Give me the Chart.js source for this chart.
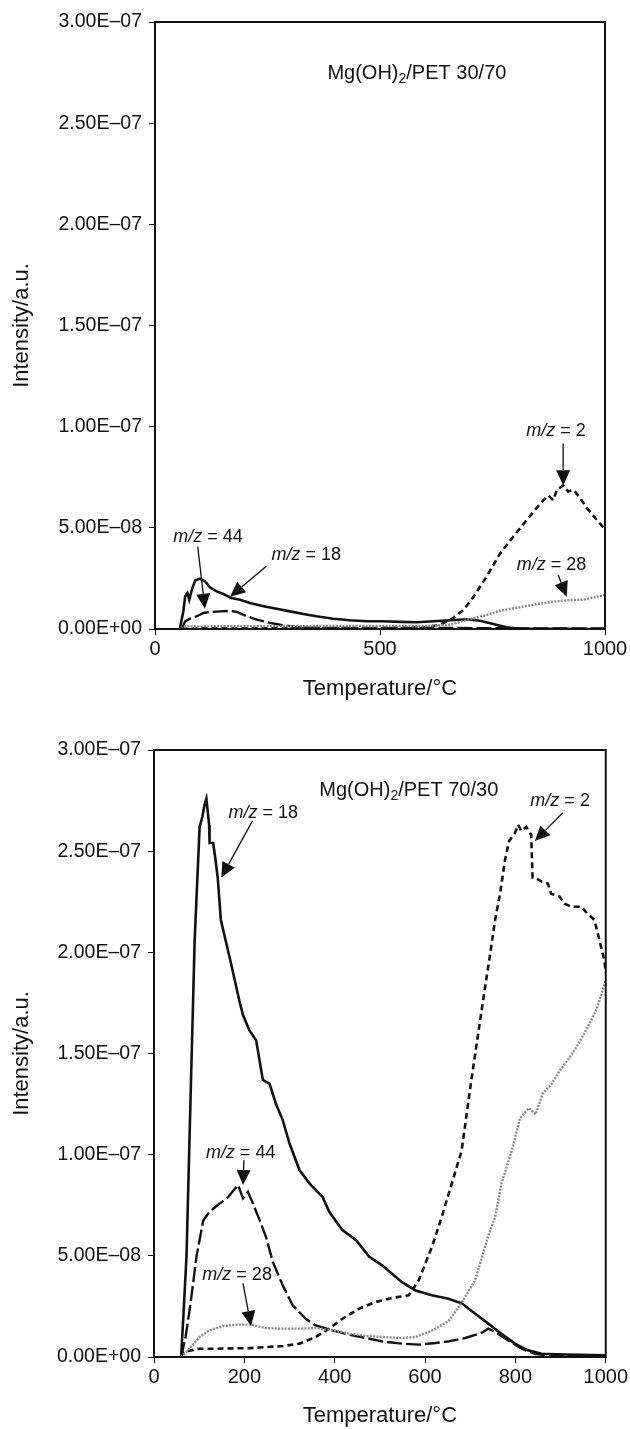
<!DOCTYPE html>
<html><head><meta charset="utf-8">
<script src="https://cdn.jsdelivr.net/npm/chart.js@4.4.1/dist/chart.umd.min.js"></script>
<style>
html,body{margin:0;padding:0;background:#fff;width:630px;height:1429px;overflow:hidden}
.wrap{position:absolute;left:0;width:630px}
canvas{display:block}
</style></head><body>
<div class="wrap" style="top:0;height:720px"><canvas id="c1" width="630" height="720"></canvas></div>
<div class="wrap" style="top:720px;height:709px"><canvas id="c2" width="630" height="709"></canvas></div>
<script>
// ---- tick labels ----
const yTickLabels = ['0.00E+00','5.00E\u201308','1.00E\u201307','1.50E\u201307','2.00E\u201307','2.50E\u201307','3.00E\u201307'];
const yTickValues = [0,5,10,15,20,25,30]; // units of 1e-8
const xTicksTop = [0,500,1000];
const xTicksBottom = [0,200,400,600,800,1000];

// ---- top panel: Mg(OH)2/PET 30/70 (intensity in 1e-8 a.u.) ----
const t18Top = [55,63,67,72,76,81,89,100,111,122,137,152,170,189,211,241,270,300,330,359,396,433,470,507,544,582,619,656,693,722,752,781,804,850,900,950,1000];
const v18Top = [0,0.87,1.61,1.78,1.45,1.86,2.4,2.49,2.36,2.06,1.86,1.73,1.53,1.45,1.28,1.12,1.0,0.87,0.74,0.63,0.51,0.43,0.38,0.38,0.35,0.33,0.38,0.43,0.48,0.41,0.25,0.08,0.02,0.01,0.01,0,0];
const t44Top = [59,67,78,93,108,122,145,167,182,204,226,256,285,322,359,450,550,650,750,850,1000];
const v44Top = [0,0.38,0.51,0.63,0.79,0.84,0.87,0.9,0.84,0.63,0.46,0.30,0.18,0.08,0.05,0.04,0.04,0.05,0.04,0.03,0.03];
const t2Top = [59,100,200,300,400,500,600,630,656,685,708,737,767,796,826,856,874,885,893,907,918,930,944,959,974,995,1000];
const v2Top = [0,0.03,0.04,0.04,0.05,0.05,0.08,0.2,0.44,0.93,1.6,2.59,3.74,4.56,5.38,6.2,6.6,6.37,6.87,7.1,6.8,6.87,6.5,6.0,5.6,5.05,4.95];
const t28Top = [59,67,100,200,300,400,500,600,619,656,693,737,767,804,841,885,922,952,996,1000];
const v28Top = [0,0.12,0.13,0.14,0.14,0.15,0.15,0.15,0.17,0.21,0.45,0.69,0.91,1.05,1.2,1.35,1.43,1.45,1.66,1.68];

// ---- bottom panel: Mg(OH)2/PET 70/30 ----
const t18Bot = [60,65,72,80,90,101,107,112,116,122,123,131,136,141,148,170,189,197,211,226,241,256,270,285,300,322,344,373,388,417,447,476,505,549,579,615,652,682,711,740,769,799,828,858,909,1000];
const v18Bot = [0,2,5,12,20.6,26.2,26.7,27.3,27.6,26.3,25.4,25.4,24.6,23.7,21.6,19.5,17.6,16.9,16.15,15.66,13.69,13.5,12.5,11.71,10.55,9.24,8.58,7.92,7.18,6.27,5.78,4.96,4.53,3.7,3.29,3.05,2.88,2.64,2.14,1.65,1.15,0.66,0.33,0.16,0.12,0.08];
const t44Bot = [60,70,80,94,109,120,131,145,164,175,186,197,208,219,234,248,263,285,307,336,358,395,432,469,505,549,586,623,652,689,725,740,755,784,814,843,872,1000];
const v44Bot = [0,1,2.5,4.96,6.75,7.09,7.33,7.58,7.9,8.2,8.5,7.84,8.16,7.58,6.75,5.93,4.7,3.54,2.55,1.89,1.56,1.32,1.1,0.94,0.77,0.66,0.61,0.69,0.77,0.94,1.19,1.4,1.24,0.82,0.41,0.16,0.08,0.05];
const t2Bot = [60,65,101,138,212,285,322,358,388,417,454,491,527,564,586,615,637,659,681,700,722,733,744,755,766,777,786,799,806,813,824,835,838,843,858,872,879,898,909,924,946,960,975,986,997,1000];
const v2Bot = [0,0.25,0.41,0.41,0.44,0.54,0.66,0.99,1.4,1.89,2.39,2.72,2.92,3.05,3.79,5.43,6.92,8.56,10.2,13.3,16.65,18.3,19.9,21.6,22.9,24.56,25.5,25.9,26.3,26.0,26.2,25.8,23.7,23.7,23.5,23.4,22.9,22.75,22.4,22.25,22.25,21.9,21.6,20.6,19.6,19.0];
const t28Bot = [60,72,101,123,153,182,212,248,285,322,358,395,432,469,505,549,579,615,652,681,711,740,755,769,792,810,830,845,860,880,900,920,940,960,980,1000];
const v28Bot = [0,0.25,0.99,1.32,1.53,1.6,1.6,1.43,1.4,1.4,1.43,1.32,1.15,1.04,0.99,0.94,0.99,1.3,1.77,2.68,3.8,6.0,6.9,8.56,10.2,11.8,12.3,12.0,13.0,13.5,14.2,14.8,15.5,16.3,17.2,18.6];

// ---- annotations (data coordinates) ----
const annTop = [
  {num:'2',  tx:891, ty:9.78, x1:907, y1:9.17, x2:907, y2:7.1},
  {num:'44', tx:118, ty:4.54, x1:95,  y1:4.07, x2:111, y2:1.0},
  {num:'18', tx:336, ty:3.66, x1:248, y1:3.11, x2:167, y2:1.6},
  {num:'28', tx:881, ty:3.16, x1:896, y1:2.67, x2:915, y2:1.6}
];
const titleTop = {pre:'Mg(OH)', sub:'2', post:'/PET 30/70', tx:582, ty:27.45};
const annBot = [
  {num:'18', tx:242, ty:26.9, x1:218, y1:26.5, x2:149, y2:23.7},
  {num:'2',  tx:899, ty:27.5, x1:905, y1:26.9, x2:843, y2:25.5},
  {num:'44', tx:192, ty:10.1, x1:199, y1:9.73, x2:197, y2:8.5},
  {num:'28', tx:184, ty:4.05, x1:197, y1:3.64, x2:215, y2:1.53}
];
const titleBot = {pre:'Mg(OH)', sub:'2', post:'/PET 70/30', tx:564, ty:28.0};

const FONT = '"Liberation Sans", Arial, Helvetica, sans-serif';
const pts = (t, v) => t.map((x, i) => ({x: x, y: v[i]}));

function series(t18, v18, t44, v44, t2, v2, t28, v28) {
  return [
    {label:'m/z = 28', data: pts(t28, v28), borderColor:'#8a8a8a', borderWidth:2.4, borderDash:[2,1.3]},
    {label:'m/z = 44', data: pts(t44, v44), borderColor:'#111', borderWidth:2.4, borderDash:[15,4]},
    {label:'m/z = 2',  data: pts(t2, v2),   borderColor:'#111', borderWidth:2.6, borderDash:[6,4]},
    {label:'m/z = 18', data: pts(t18, v18), borderColor:'#111', borderWidth:2.6}
  ].map(d => Object.assign(d, {pointRadius:0, tension:0, fill:false}));
}

function annPlugin(anns, title) {
  return {
    id: 'ann',
    afterDatasetsDraw(chart) {
      const {ctx, chartArea: a, scales: {x, y}} = chart;
      ctx.save();
      ctx.strokeStyle = '#111';
      ctx.lineWidth = 2;
      ctx.strokeRect(a.left, a.top, a.right - a.left, a.bottom - a.top);
      ctx.fillStyle = '#111';
      ctx.textBaseline = 'middle';
      ctx.textAlign = 'left';
      const tx = x.getPixelForValue(title.tx), ty = y.getPixelForValue(title.ty);
      ctx.font = '20px ' + FONT;
      const w1 = ctx.measureText(title.pre).width;
      const w3 = ctx.measureText(title.post).width;
      ctx.font = '14px ' + FONT;
      const w2 = ctx.measureText(title.sub).width;
      let sx = tx - (w1 + w2 + w3) / 2;
      ctx.font = '20px ' + FONT;
      ctx.fillText(title.pre, sx, ty);
      ctx.font = '14px ' + FONT;
      ctx.fillText(title.sub, sx + w1, ty + 6);
      ctx.font = '20px ' + FONT;
      ctx.fillText(title.post, sx + w1 + w2, ty);
      anns.forEach(an => {
        const px = x.getPixelForValue(an.tx), py = y.getPixelForValue(an.ty);
        ctx.font = 'italic 18px ' + FONT;
        const a1 = 'm/z', wa = ctx.measureText(a1).width;
        ctx.font = '18px ' + FONT;
        const b1 = ' = ' + an.num, wb = ctx.measureText(b1).width;
        const s0 = px - (wa + wb) / 2;
        ctx.font = 'italic 18px ' + FONT;
        ctx.fillText(a1, s0, py);
        ctx.font = '18px ' + FONT;
        ctx.fillText(b1, s0 + wa, py);
        const X1 = x.getPixelForValue(an.x1), Y1 = y.getPixelForValue(an.y1);
        const X2 = x.getPixelForValue(an.x2), Y2 = y.getPixelForValue(an.y2);
        const ang = Math.atan2(Y2 - Y1, X2 - X1);
        const L = 15, H = 7;
        const bx = X2 - L * Math.cos(ang), by = Y2 - L * Math.sin(ang);
        ctx.lineWidth = 1.3;
        ctx.beginPath(); ctx.moveTo(X1, Y1); ctx.lineTo(bx, by); ctx.stroke();
        ctx.beginPath();
        ctx.moveTo(X2, Y2);
        ctx.lineTo(bx + H * Math.sin(ang), by - H * Math.cos(ang));
        ctx.lineTo(bx - H * Math.sin(ang), by + H * Math.cos(ang));
        ctx.closePath(); ctx.fill();
      });
      ctx.restore();
    }
  };
}

function makeChart(id, datasets, xTicks, geo, anns, title) {
  return new Chart(document.getElementById(id), {
    type: 'line',
    data: {datasets},
    options: {
      responsive: false, animation: false, devicePixelRatio: 1, events: [],
      layout: {padding: {left: 0, top: geo.top, right: geo.right, bottom: 0}},
      plugins: {legend: {display: false}, tooltip: {enabled: false}},
      scales: {
        x: {
          type: 'linear', min: 0, max: 1000,
          afterBuildTicks: s => { s.ticks = xTicks.map(v => ({value: v})); },
          afterFit: s => { s.height = geo.xh; },
          border: {display: false},
          grid: {drawOnChartArea: false, drawTicks: true, tickLength: 6, color: '#111', lineWidth: 1},
          ticks: {color: '#111', padding: 2, maxRotation: 0, autoSkip: false, font: {family: FONT, size: 20}, callback: v => String(v)},
          title: {display: true, text: 'Temperature/\u00b0C', color: '#111', font: {family: FONT, size: 22}, padding: {top: 0, bottom: geo.xtp}}
        },
        y: {
          type: 'linear', min: 0, max: 30,
          afterBuildTicks: s => { s.ticks = yTickValues.map(v => ({value: v})); },
          afterFit: s => { s.width = geo.yw; },
          border: {display: false},
          grid: {drawOnChartArea: false, drawTicks: true, tickLength: 6, color: '#111', lineWidth: 1},
          ticks: {color: '#111', padding: 7, autoSkip: false, font: {family: FONT, size: 19.5}, callback: v => yTickLabels[yTickValues.indexOf(v)]},
          title: {display: true, text: 'Intensity/a.u.', color: '#111', font: {family: FONT, size: 22}, padding: {top: 9, bottom: 0}}
        }
      }
    },
    plugins: [annPlugin(anns, title)]
  });
}

makeChart('c1', series(t18Top, v18Top, t44Top, v44Top, t2Top, v2Top, t28Top, v28Top), xTicksTop,
  {top: 22, right: 25, xh: 91, yw: 155, xtp: 18}, annTop, titleTop);
makeChart('c2', series(t18Bot, v18Bot, t44Bot, v44Bot, t2Bot, v2Bot, t28Bot, v28Bot), xTicksBottom,
  {top: 30, right: 22, xh: 72, yw: 154, xtp: 0}, annBot, titleBot);
</script>
</body></html>
